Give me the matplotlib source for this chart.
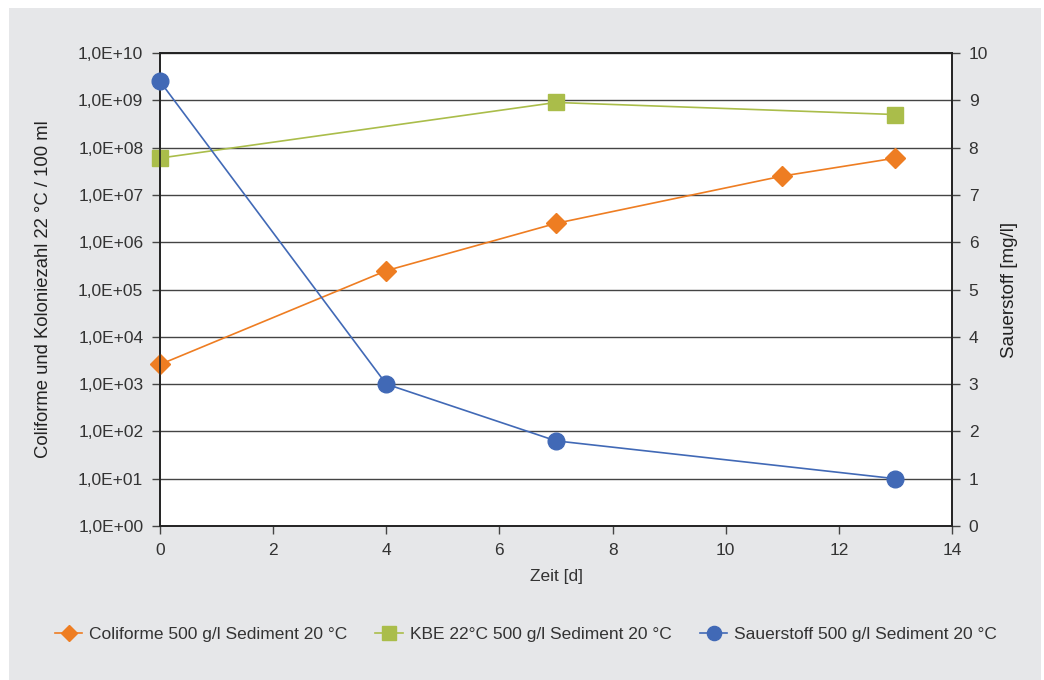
import math
import matplotlib
matplotlib.use("Agg")
import matplotlib.pyplot as plt
from matplotlib.patches import Rectangle
from matplotlib.ticker import FixedLocator, FuncFormatter

# ---- data ----
coli_days = [0, 4, 7, 11, 13]
coli_vals = [2.6e3, 2.5e5, 2.5e6, 2.5e7, 6.0e7]
kbe_days = [0, 7, 13]
kbe_vals = [6.0e7, 9.0e8, 5.0e8]
o2_days = [0, 4, 7, 13]
o2_vals = [9.4, 3.0, 1.8, 1.0]

labels = ["Coliforme 500 g/l Sediment 20 °C",
          "KBE 22°C 500 g/l Sediment 20 °C",
          "Sauerstoff 500 g/l Sediment 20 °C"]
xlabel = "Zeit [d]"
ylabel_left = "Coliforme und Koloniezahl 22 °C / 100 ml"
ylabel_right = "Sauerstoff [mg/l]"

# ---- style ----
plt.rcParams["font.family"] = ["Liberation Sans", "DejaVu Sans"]
txt = "#333333"
c_orange = "#ee7d22"
c_green = "#aabd4a"
c_blue = "#4169b6"
bg = "#e6e7e9"
fs = 12.5

fig = plt.figure(figsize=(10.44, 6.8), dpi=100)
fig.patches.append(Rectangle((9 / 1044, 0), 1032 / 1044, 672 / 680,
                             transform=fig.transFigure, facecolor=bg,
                             edgecolor="none", zorder=-10))

ax = fig.add_axes([160 / 1044, 1 - 526 / 680, 792 / 1044, 473 / 680])
ax.set_facecolor("white")
ax.set_yscale("log")
ax.set_ylim(1, 1e10)
ax.set_xlim(0, 14)
ax.set_xticks(range(0, 15, 2))
ax.yaxis.set_major_locator(FixedLocator([10.0 ** k for k in range(11)]))
ax.yaxis.set_minor_locator(FixedLocator([]))
ax.yaxis.set_major_formatter(FuncFormatter(lambda v, p: "1,0E+%02d" % round(math.log10(v))))
ax.grid(axis="y", color="#444444", linewidth=1.0)
ax.set_axisbelow(True)
for s in ax.spines.values():
    s.set_color("#222222")
    s.set_linewidth(1.2)

ax2 = ax.twinx()
ax2.set_ylim(0, 10)
ax2.set_yticks(range(0, 11))
for s in ax2.spines.values():
    s.set_color("#222222")
    s.set_linewidth(1.2)

for a in (ax, ax2):
    a.tick_params(axis="both", which="major", direction="out", length=6,
                  width=1.0, color="#444444", labelcolor=txt, labelsize=fs, pad=6)

l1, = ax.plot(coli_days, coli_vals, color=c_orange, linewidth=1.2, marker="D",
              markersize=10, markeredgecolor=c_orange, label=labels[0], zorder=3)
l2, = ax.plot(kbe_days, kbe_vals, color=c_green, linewidth=1.2, marker="s",
              markersize=12, markeredgecolor=c_green, label=labels[1], zorder=3)
l3, = ax2.plot(o2_days, o2_vals, color=c_blue, linewidth=1.2, marker="o",
               markersize=12, markeredgecolor=c_blue, label=labels[2], zorder=3)
for l in (l1, l2, l3):
    l.set_clip_on(False)

ax.set_xlabel(xlabel, fontsize=fs, color=txt, labelpad=8)
ax.set_ylabel(ylabel_left, fontsize=13.3, color="#222222", labelpad=19)
ax2.set_ylabel(ylabel_right, fontsize=13.5, color="#222222", labelpad=9)

fig.legend(handles=[l1, l2, l3], loc="center", bbox_to_anchor=(526 / 1044, 1 - 634 / 680),
           ncol=3, frameon=False, fontsize=fs, markerscale=0.85,
           handlelength=1.6, columnspacing=1.6, handletextpad=0.4,
           labelcolor=txt)

fig.savefig("out.png", dpi=100)
